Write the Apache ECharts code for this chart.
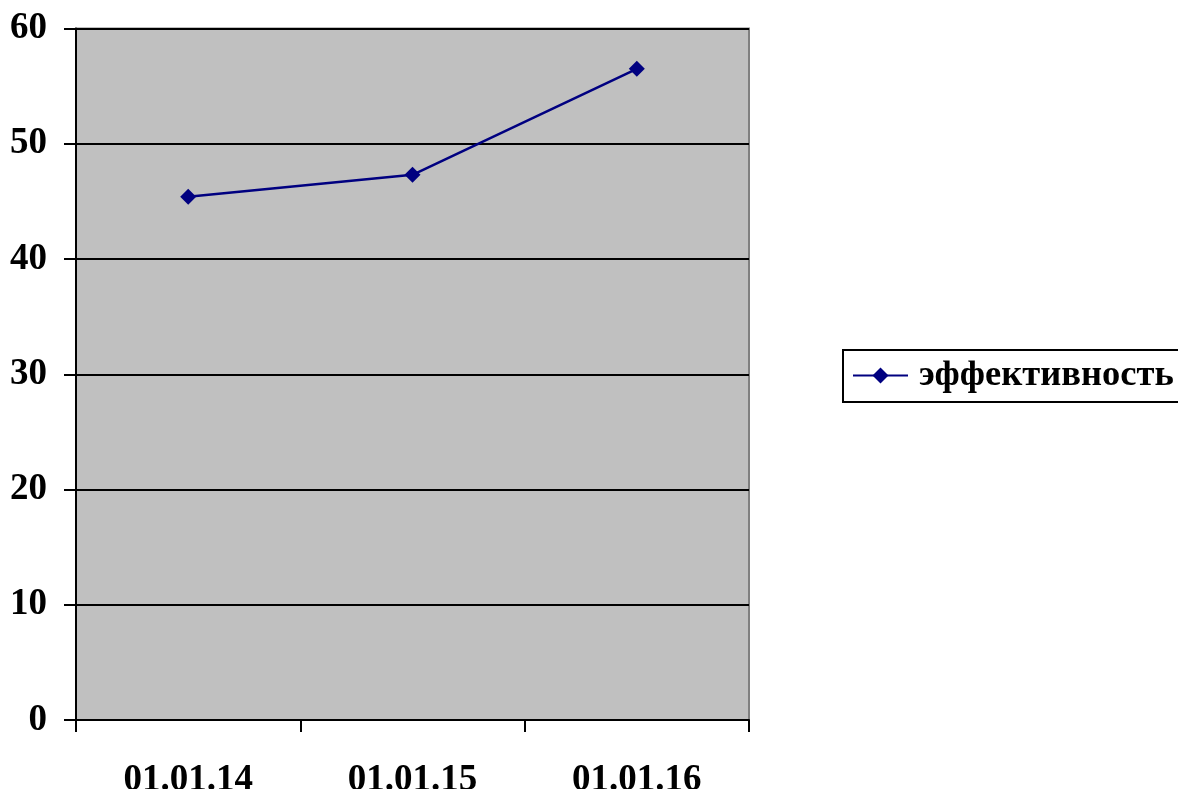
<!DOCTYPE html>
<html><head><meta charset="utf-8">
<script src="https://cdn.jsdelivr.net/npm/echarts@6/dist/echarts.min.js"></script>
<style>html,body{margin:0;padding:0;background:#fff}#c{width:1178px;height:789px}</style>
</head><body><div id="c"></div>
<script>
const categories = ['01.01.14', '01.01.15', '01.01.16'];
const seriesName = 'эффективность';
const values = [45.4, 47.3, 56.5];
const yTicks = { min: 0, max: 60, interval: 10 };

const font = '"Liberation Serif","Times New Roman",serif';
const chart = echarts.init(document.getElementById('c'), null, { renderer: 'canvas' });
chart.setOption({
  animation: false,
  backgroundColor: '#ffffff',
  grid: { left: 76, right: 429, top: 28.5, bottom: 69, show: true, backgroundColor: '#c0c0c0', borderColor: '#808080', borderWidth: 2, containLabel: false, outerBoundsMode: 'none' },
  legend: {
    show: true, left: 843, top: 350, orient: 'horizontal',
    borderColor: '#000', borderWidth: 2, padding: [7, 12, 8, 9],
    itemWidth: 55, itemHeight: 20, itemGap: 6,
    textStyle: { fontFamily: font, fontWeight: 'bold', fontSize: 36.5, color: '#000', padding: [0, 0, 0, 6] },
    data: [seriesName]
  },
  xAxis: {
    type: 'category', data: categories, boundaryGap: true,
    axisLine: { lineStyle: { color: '#000', width: 2 } },
    axisTick: { show: true, length: 12, inside: false, alignWithLabel: false, lineStyle: { color: '#000', width: 2 } },
    axisLabel: { margin: 42, fontFamily: font, fontWeight: 'bold', fontSize: 37, color: '#000' },
    splitLine: { show: false }
  },
  yAxis: {
    type: 'value', min: yTicks.min, max: yTicks.max, interval: yTicks.interval,
    axisLine: { show: true, lineStyle: { color: '#000', width: 2 } },
    axisTick: { show: true, length: 12, lineStyle: { color: '#000', width: 2 } },
    axisLabel: { margin: 29, fontFamily: font, fontWeight: 'bold', fontSize: 37, color: '#000' },
    splitLine: { show: true, lineStyle: { color: '#000', width: 2 } }
  },
  series: [{
    name: seriesName, type: 'line', data: values,
    symbol: 'diamond', symbolSize: 16, showSymbol: true,
    lineStyle: { color: '#000080', width: 2.5 },
    itemStyle: { color: '#000080' }
  }]
});
</script></body></html>
